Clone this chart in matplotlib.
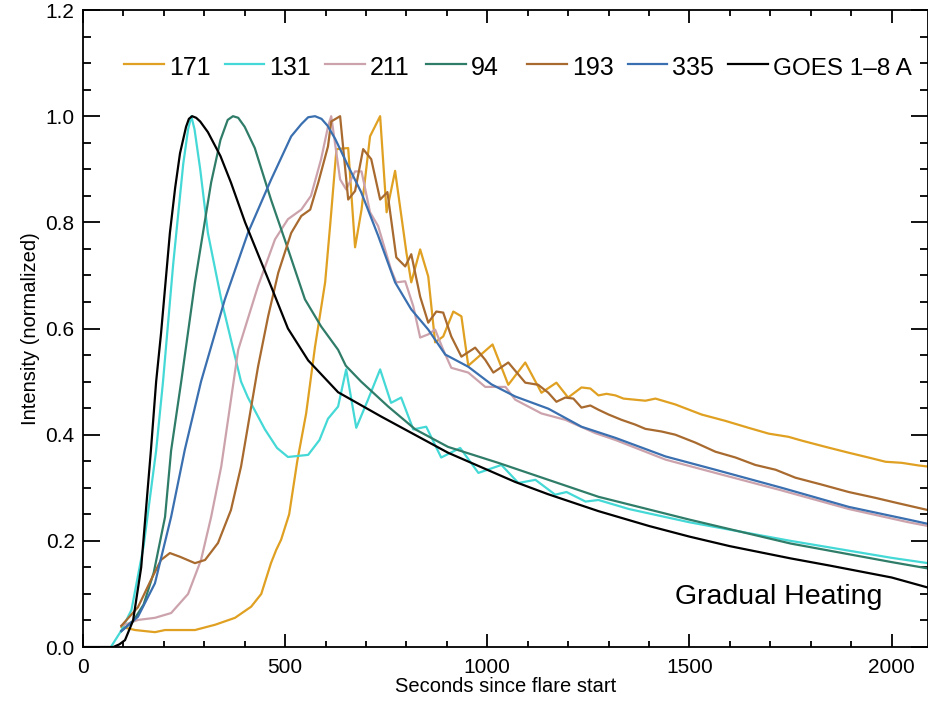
import matplotlib
matplotlib.use('Agg')
import matplotlib.pyplot as plt
from matplotlib.ticker import MultipleLocator, FormatStrFormatter

plt.rcParams['font.family'] = ['Liberation Sans', 'DejaVu Sans']

# --- data (seconds since flare start, normalized intensity) ---
t_171 = [95, 129, 178, 203, 277, 327, 376, 416, 441, 465, 478, 490, 510, 530, 552, 574, 599,
         612, 627, 656, 673, 689, 710, 735, 751, 772, 800, 812, 834, 854, 871, 891, 916, 936,
         953, 1013, 1052, 1094, 1134, 1171, 1200, 1233, 1255, 1275, 1295, 1317, 1337, 1391,
         1416, 1465, 1530, 1589, 1646, 1696, 1745, 1777, 1837, 1894, 1943, 1985, 2025, 2067, 2090]
i_171 = [0.038, 0.032, 0.028, 0.032, 0.032, 0.042, 0.055, 0.076, 0.10, 0.158, 0.183, 0.202,
         0.25, 0.35, 0.44, 0.566, 0.687, 0.80, 0.938, 0.94, 0.753, 0.824, 0.962, 1.0, 0.819,
         0.897, 0.743, 0.687, 0.749, 0.698, 0.574, 0.585, 0.632, 0.623, 0.53, 0.57, 0.494,
         0.536, 0.479, 0.498, 0.47, 0.489, 0.487, 0.474, 0.477, 0.474, 0.468, 0.464, 0.468,
         0.457, 0.438, 0.426, 0.413, 0.402, 0.396, 0.389, 0.377, 0.366, 0.357, 0.349, 0.347,
         0.342, 0.34]

t_131 = [69, 94, 120, 150, 181, 198, 223, 248, 260, 268, 276, 290, 309, 342, 391, 408, 450,
         480, 507, 557, 585, 606, 631, 651, 676, 705, 735, 762, 787, 817, 849, 886, 933, 978,
         1035, 1077, 1119, 1168, 1196, 1243, 1275, 1350, 1500, 1750, 2000, 2090]
i_131 = [0.0, 0.03, 0.07, 0.19, 0.37, 0.50, 0.72, 0.91, 0.975, 1.0, 0.975, 0.90, 0.78, 0.655,
         0.50, 0.47, 0.41, 0.375, 0.358, 0.362, 0.39, 0.43, 0.453, 0.523, 0.413, 0.466, 0.523,
         0.46, 0.47, 0.41, 0.415, 0.357, 0.375, 0.328, 0.343, 0.309, 0.315, 0.287, 0.292,
         0.274, 0.277, 0.26, 0.235, 0.20, 0.168, 0.158]

t_211 = [95, 136, 178, 218, 260, 292, 317, 342, 384, 433, 475, 507, 540, 564, 589, 606, 614,
         636, 651, 673, 689, 710, 730, 762, 775, 797, 817, 834, 854, 871, 891, 911, 953, 995,
         1045, 1069, 1134, 1193, 1267, 1317, 1441, 1564, 1728, 1894, 2042, 2090]
i_211 = [0.04, 0.051, 0.055, 0.064, 0.10, 0.164, 0.245, 0.34, 0.56, 0.68, 0.768, 0.806,
         0.824, 0.85, 0.919, 0.98, 1.0, 0.881, 0.862, 0.896, 0.896, 0.819, 0.793, 0.711,
         0.687, 0.689, 0.642, 0.583, 0.589, 0.598, 0.56, 0.526, 0.517, 0.49, 0.49, 0.466,
         0.44, 0.428, 0.403, 0.39, 0.353, 0.328, 0.295, 0.26, 0.235, 0.228]

t_94 = [95, 125, 150, 175, 203, 218, 243, 277, 317, 340, 358, 371, 384, 400, 425, 465, 507,
        549, 589, 631, 650, 688, 755, 822, 903, 1027, 1151, 1275, 1500, 1750, 2000, 2090]
i_94 = [0.03, 0.05, 0.08, 0.14, 0.245, 0.37, 0.50, 0.687, 0.875, 0.955, 0.993, 1.0, 0.997,
        0.98, 0.94, 0.843, 0.75, 0.655, 0.604, 0.56, 0.53, 0.50, 0.453, 0.41, 0.377, 0.347,
        0.315, 0.283, 0.24, 0.195, 0.16, 0.148]

t_193 = [95, 136, 168, 193, 215, 240, 277, 302, 334, 366, 391, 433, 458, 483, 515, 540, 562,
         582, 606, 614, 636, 656, 673, 693, 713, 735, 753, 775, 797, 812, 834, 854, 874, 891,
         911, 936, 970, 995, 1015, 1052, 1094, 1126, 1151, 1171, 1193, 1213, 1233, 1255, 1275,
         1300, 1332, 1366, 1391, 1431, 1465, 1515, 1564, 1614, 1663, 1713, 1762, 1827, 1894,
         1960, 2010, 2067, 2090]
i_193 = [0.04, 0.075, 0.126, 0.164, 0.177, 0.17, 0.158, 0.164, 0.196, 0.258, 0.34, 0.528,
         0.623, 0.705, 0.78, 0.812, 0.824, 0.875, 0.943, 0.99, 1.0, 0.843, 0.859, 0.938,
         0.919, 0.843, 0.857, 0.734, 0.717, 0.74, 0.66, 0.611, 0.632, 0.63, 0.585, 0.547,
         0.564, 0.541, 0.517, 0.536, 0.498, 0.494, 0.479, 0.462, 0.47, 0.468, 0.451, 0.455,
         0.447, 0.438, 0.428, 0.419, 0.411, 0.406, 0.40, 0.385, 0.368, 0.357, 0.343, 0.334,
         0.319, 0.306, 0.292, 0.281, 0.272, 0.262, 0.258]

t_335 = [95, 136, 178, 218, 252, 292, 351, 408, 465, 515, 540, 557, 574, 590, 605, 624, 656,
         688, 730, 772, 812, 854, 896, 953, 1010, 1069, 1151, 1233, 1317, 1441, 1564, 1728,
         1894, 2042, 2090]
i_335 = [0.03, 0.057, 0.12, 0.245, 0.372, 0.50, 0.655, 0.78, 0.88, 0.962, 0.985, 0.998, 1.0,
         0.995, 0.982, 0.957, 0.906, 0.857, 0.775, 0.687, 0.636, 0.598, 0.551, 0.528, 0.495,
         0.472, 0.449, 0.415, 0.394, 0.359, 0.334, 0.30, 0.264, 0.24, 0.232]

t_goes = [0, 50, 75, 90, 104, 124, 144, 168, 181, 193, 215, 228, 240, 255, 262, 270, 280,
          290, 309, 340, 366, 401, 433, 465, 507, 557, 631, 738, 903, 1069, 1150, 1275, 1400,
          1500, 1600, 1750, 1850, 2000, 2090]
i_goes = [0.0, 0.0, 0.0, 0.005, 0.013, 0.05, 0.15, 0.37, 0.50, 0.59, 0.78, 0.865, 0.93, 0.98,
          0.995, 1.0, 0.997, 0.99, 0.97, 0.925, 0.875, 0.80, 0.74, 0.68, 0.60, 0.54, 0.48,
          0.434, 0.366, 0.311, 0.288, 0.256, 0.228, 0.208, 0.19, 0.167, 0.153, 0.131, 0.112]

series = [
    ('171', t_171, i_171, '#E0A021'),
    ('131', t_131, i_131, '#44D9D6'),
    ('211', t_211, i_211, '#CCA3AC'),
    ('94', t_94, i_94, '#2F7C68'),
    ('193', t_193, i_193, '#A86A2E'),
    ('335', t_335, i_335, '#3A6FB0'),
    ('GOES 1\u20138 A', t_goes, i_goes, 'black'),
]

fig = plt.figure(figsize=(9.29, 7.01), dpi=100)
ax = fig.add_axes([0.0893, 0.077, 0.9096, 0.9087])

for label, t, v, color in series:
    ax.plot(t, v, color=color, lw=1.6, label=label)

ax.set_xlim(0, 2090)
ax.set_ylim(0, 1.2)
ax.xaxis.set_major_locator(MultipleLocator(500))
ax.xaxis.set_minor_locator(MultipleLocator(100))
ax.yaxis.set_major_locator(MultipleLocator(0.2))
ax.yaxis.set_minor_locator(MultipleLocator(0.05))
ax.yaxis.set_major_formatter(FormatStrFormatter('%.1f'))
ax.tick_params(which='both', direction='in', top=True, right=True, width=1.3,
               labelsize=15)
ax.tick_params(axis='x', which='major', length=9.5, pad=8)
ax.tick_params(axis='x', which='minor', length=4.5)
ax.tick_params(axis='y', which='major', length=12, pad=6)
ax.tick_params(axis='y', which='minor', length=6)
for s in ax.spines.values():
    s.set_linewidth(1.3)

ax.set_xlabel('Seconds since flare start', fontsize=14.5, labelpad=0)
ax.set_ylabel('Intensity (normalized)', fontsize=14.5, labelpad=4)

# IDL-style legend: evenly spaced entries across the top
x0, step, hlen = 0.0485, 0.1192, 0.047
for k, (label, t, v, color) in enumerate(series):
    xs = x0 + k * step
    ax.plot([xs, xs + hlen], [0.916, 0.916], transform=ax.transAxes, color=color, lw=1.6,
            clip_on=False)
    ax.text(xs + hlen + 0.006, 0.898, label, transform=ax.transAxes, ha='left',
            va='baseline', fontsize=17.5 if label.startswith('GOES') else 18)

ax.text(0.946, 0.078, 'Gradual Heating', transform=ax.transAxes, ha='right', va='center',
        fontsize=20.5)

plt.savefig('out.png', dpi=100)
plt.close()
